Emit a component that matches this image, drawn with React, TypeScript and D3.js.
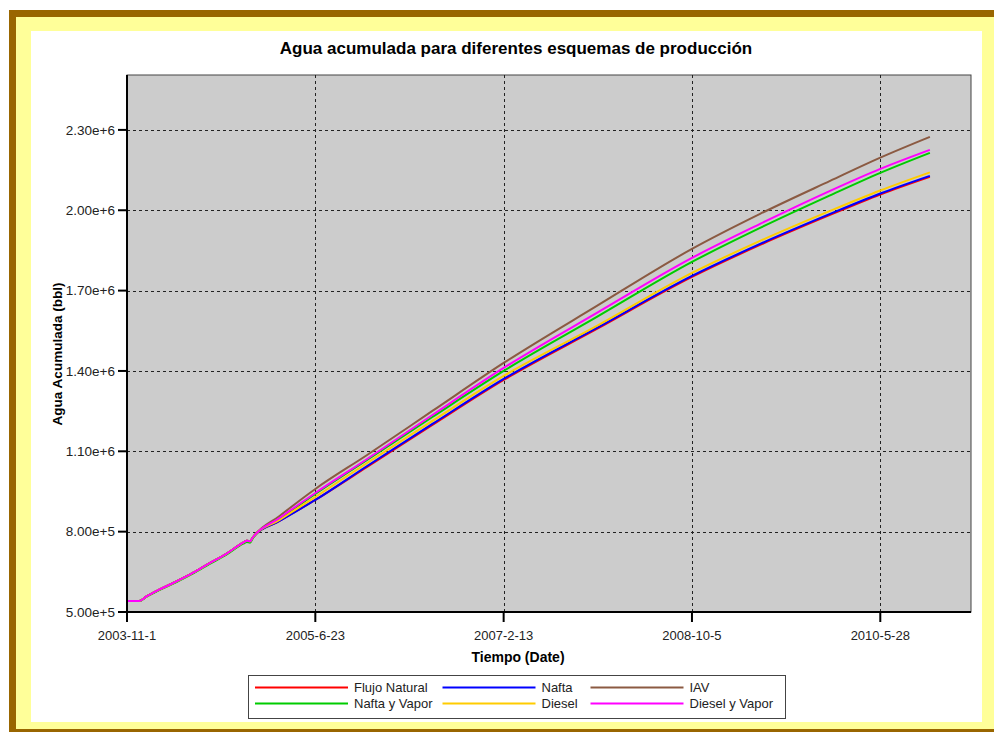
import React from "react";
import * as d3 from "d3";

const dates = [
  "2003-11-01", "2003-12-10", "2004-01-01", "2004-02-10", "2004-04-05", "2004-05-30",
  "2004-07-20", "2004-09-10", "2004-11-05", "2004-11-17", "2004-11-27", "2004-12-06",
  "2005-03-01", "2005-06-23", "2005-12-05", "2006-07-01", "2007-02-13", "2007-12-07",
  "2008-10-05", "2009-05-10", "2009-12-19", "2010-05-28", "2010-11-02",
];

const early = [541000, 541000, 557100, 582200, 613200, 646800, 681900, 715500, 758800, 766300, 764000, 779000];
const earlyGreen = [541000, 541000, 556000, 580500, 611000, 644000, 678500, 712000, 755000, 761500, 758500, 776000];

const flujoNatural = [...early, 839800, 918300, 1041500, 1198400, 1366400, 1556900, 1751100, 1870600, 1982600, 2058800, 2124600];
const nafta = [...early, 839800, 918300, 1045200, 1202100, 1370200, 1560600, 1754800, 1874300, 1986400, 2062600, 2128300];
const iav = [...early, 858500, 959400, 1086300, 1250700, 1429900, 1642800, 1855700, 1986400, 2109600, 2196300, 2273900];
const naftaVapor = [...earlyGreen, 847300, 940700, 1067700, 1228200, 1400000, 1601700, 1807100, 1934100, 2055500, 2139500, 2214200];
const diesel = [...early, 843600, 929500, 1056400, 1213300, 1381400, 1568100, 1766000, 1885500, 1997600, 2073800, 2141300];
const dieselVapor = [...early, 851100, 944400, 1071400, 1235700, 1411200, 1616600, 1822000, 1949000, 2072300, 2154400, 2225400];

const seriesNames = ["Flujo Natural", "Nafta", "IAV", "Nafta y Vapor", "Diesel", "Diesel y Vapor"];
const seriesValues = [flujoNatural, nafta, iav, naftaVapor, diesel, dieselVapor];
const seriesColors = ["#FF0000", "#0000FF", "#8B5A42", "#00CC00", "#FFCC00", "#FF00FF"];

const xTickLabels = ["2003-11-1", "2005-6-23", "2007-2-13", "2008-10-5", "2010-5-28"];
const yTickValues = [500000, 800000, 1100000, 1400000, 1700000, 2000000, 2300000];
const yTickLabels = ["5.00e+5", "8.00e+5", "1.10e+6", "1.40e+6", "1.70e+6", "2.00e+6", "2.30e+6"];

const xDomain = ["2003-11-01", "2011-03-13"];
const yDomain = [500000, 2505000];

const FONT = "Arial, 'Liberation Sans', Helvetica, sans-serif";

export default function App() {
  const parse = d3.timeParse("%Y-%m-%d");
  const W = 994, H = 732;
  const L = 127, R = 971, T = 75, B = 612;

  const x = d3.scaleTime().domain(xDomain.map((d) => parse(d) as Date)).range([L, R]);
  const y = d3.scaleLinear().domain(yDomain).range([B, T]);

  const parsedDates = dates.map((d) => parse(d) as Date);
  const line = d3
    .line<[Date, number]>()
    .x((d) => x(d[0]))
    .y((d) => y(d[1]))
    .curve(d3.curveMonotoneX);

  const xTicks = xTickLabels.map((s) => parse(s) as Date);

  const legendCols = 3;
  const colX = [255, 442.5, 590.5];
  const rowY = [687.5, 703.5];

  return (
    <svg
      width={W}
      height={H}
      style={{ position: "absolute", left: 0, top: 0, display: "block" }}
      fontFamily={FONT}
    >
      {/* frame */}
      <rect x={9} y={10} width={W + 20} height={H + 20} fill="#996600" />
      <rect x={16} y={17} width={980} height={712} fill="#FFFF99" />
      <rect x={31} y={31} width={951} height={691} fill="#FFFFFF" />

      {/* title */}
      <text x={516} y={54} textAnchor="middle" fontSize={17} fontWeight="bold" fill="#000">
        Agua acumulada para diferentes esquemas de producción
      </text>

      {/* plot bg */}
      <rect x={L} y={T} width={R - L} height={B - T} fill="#CCCCCC" stroke="#444" strokeWidth={1} />

      {/* grid */}
      {yTickValues.slice(1).map((v, i) => (
        <line key={"gy" + i} x1={L} x2={R} y1={Math.round(y(v)) + 0.5} y2={Math.round(y(v)) + 0.5}
          stroke="#222" strokeWidth={1} strokeDasharray="3,3" />
      ))}
      {xTicks.slice(1).map((d, i) => (
        <line key={"gx" + i} x1={Math.round(x(d)) + 0.5} x2={Math.round(x(d)) + 0.5} y1={T} y2={B}
          stroke="#222" strokeWidth={1} strokeDasharray="3,3" />
      ))}

      {/* series */}
      {seriesValues.map((vals, si) => (
        <path
          key={"s" + si}
          d={line(parsedDates.map((d, i) => [d, vals[i]] as [Date, number])) || ""}
          fill="none"
          stroke={seriesColors[si]}
          strokeWidth={2}
          strokeLinejoin="round"
        />
      ))}

      {/* axes */}
      <line x1={L} x2={L} y1={T} y2={B + 1} stroke="#000" strokeWidth={2} />
      <line x1={L - 1} x2={R} y1={B} y2={B} stroke="#000" strokeWidth={2} />

      {yTickValues.map((v, i) => (
        <g key={"yt" + i}>
          <line x1={L - 9} x2={L} y1={y(v)} y2={y(v)} stroke="#000" strokeWidth={2} />
          <text x={115} y={y(v)} dy="0.35em" textAnchor="end" fontSize={13.5} fill="#222">
            {yTickLabels[i]}
          </text>
        </g>
      ))}
      {xTicks.map((d, i) => (
        <g key={"xt" + i}>
          <line x1={x(d)} x2={x(d)} y1={B} y2={B + 10} stroke="#000" strokeWidth={2} />
          <text x={x(d)} y={640} textAnchor="middle" fontSize={13} fill="#222">
            {xTickLabels[i]}
          </text>
        </g>
      ))}

      {/* axis labels */}
      <text x={518} y={662} textAnchor="middle" fontSize={14} fontWeight="bold" fill="#000">
        Tiempo (Date)
      </text>
      <text
        transform={`translate(62,354) rotate(-90)`}
        textAnchor="middle"
        fontSize={13.5}
        fontWeight="bold"
        fill="#000"
      >
        Agua Acumulada (bbl)
      </text>

      {/* legend */}
      <rect x={248.5} y={675.5} width={537} height={43} fill="#FFFFFF" stroke="#444" strokeWidth={1} />
      {seriesNames.map((name, i) => {
        const r = Math.floor(i / legendCols);
        const c = i % legendCols;
        const lx = colX[c];
        const ly = rowY[r];
        return (
          <g key={"lg" + i}>
            <line x1={lx} x2={lx + 93} y1={ly} y2={ly} stroke={seriesColors[i]} strokeWidth={2} />
            <text x={lx + 99} y={ly} dy="0.35em" fontSize={13} fill="#222">
              {name}
            </text>
          </g>
        );
      })}
    </svg>
  );
}
